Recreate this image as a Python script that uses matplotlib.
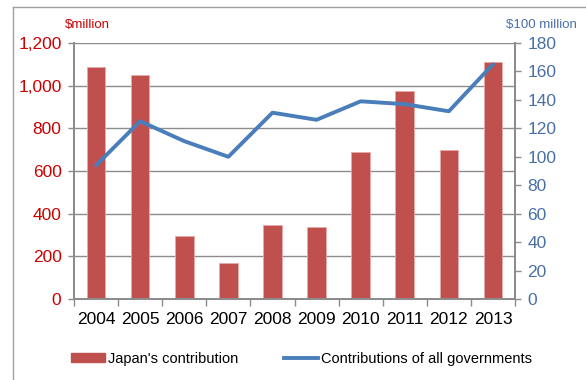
import matplotlib.pyplot as plt
import numpy as np
from matplotlib.lines import Line2D
from matplotlib.patches import Patch

plt.rcParams['font.family'] = ['Liberation Sans', 'DejaVu Sans']

## Data
years = ['2004', '2005', '2006', '2007', '2008', '2009', '2010', '2011', '2012', '2013']
japan_contrib = [1087, 1048, 295, 170, 347, 336, 690, 975, 697, 1112]      # $million
all_govts = [94, 125, 111, 100, 131, 126, 139, 137, 132, 165]              # $100 million

## Colours
bar_red = '#C0504D'
line_blue = '#4A7EBB'
left_red = '#CC0000'
right_blue = '#4A6FA5'
grid_grey = '#8C8C8C'

fig = plt.figure(figsize=(5.86, 3.80), dpi=100)
ax = fig.add_axes([74 / 586, 1 - 299 / 380, 441 / 586, 256 / 380])
ax2 = ax.twinx()

x = np.arange(len(years))
ax.bar(x, japan_contrib, width=0.42, color=bar_red, edgecolor='#E6A9A7', linewidth=0.6, zorder=2)
ax2.plot(x, all_govts, color=line_blue, linewidth=2.8, solid_capstyle='round', zorder=3)

## Left axis
ax.set_xlim(-0.5, len(years) - 0.5)
ax.set_ylim(0, 1200)
ax.set_yticks(range(0, 1201, 200))
ax.set_yticklabels(['0', '200', '400', '600', '800', '1,000', '1,200'])
ax.tick_params(axis='y', colors=grid_grey, labelcolor=left_red, labelsize=12.5,
               length=4, width=1, pad=5)
ax.yaxis.grid(True, color=grid_grey, linewidth=1, zorder=0)
ax.set_axisbelow(True)

## Category axis: ticks between years, labels centred
ax.set_xticks(np.arange(-0.5, len(years), 1.0))
ax.set_xticklabels([])
ax.set_xticks(x, minor=True)
ax.set_xticklabels(years, minor=True)
ax.tick_params(axis='x', which='major', direction='out', length=5, width=1, color=grid_grey)
ax.tick_params(axis='x', which='minor', length=0, labelsize=12.5, pad=9, labelcolor='black')

for a in (ax, ax2):
    a.spines['top'].set_visible(False)
    for side in ('left', 'right', 'bottom'):
        a.spines[side].set_color(grid_grey)
        a.spines[side].set_linewidth(1.4)

## Right axis
ax2.set_ylim(0, 180)
ax2.set_yticks(range(0, 181, 20))
ax2.tick_params(axis='y', colors=grid_grey, labelcolor=right_blue, labelsize=12.5,
                length=4, width=1, pad=5)

## Unit labels
fig.text(65 / 586, 1 - 25 / 380, '$million', color=left_red, fontsize=9.5,
         ha='left', va='center')
fig.text(577 / 586, 1 - 25 / 380, '$100 million', color=right_blue, fontsize=9.5,
         ha='right', va='center')

## Outer frame (top and left edges)
fig.add_artist(Line2D([13 / 586, 1], [1 - 7 / 380, 1 - 7 / 380], color='#A0A0A0', linewidth=1))
fig.add_artist(Line2D([13 / 586, 13 / 586], [0, 1 - 7 / 380], color='#A0A0A0', linewidth=1))

## Legend
handles = [Patch(facecolor=bar_red, edgecolor=bar_red),
           Line2D([], [], color=line_blue, linewidth=2.8)]
labels = ["Japan's contribution", 'Contributions of all governments']
fig.legend(handles, labels, loc='center', bbox_to_anchor=(301.5 / 586, 1 - 359 / 380),
           ncol=2, frameon=False, fontsize=10.5, handlelength=2.3, handleheight=0.55,
           handletextpad=0.2, columnspacing=3.2)

fig.savefig('out.png', dpi=100)
